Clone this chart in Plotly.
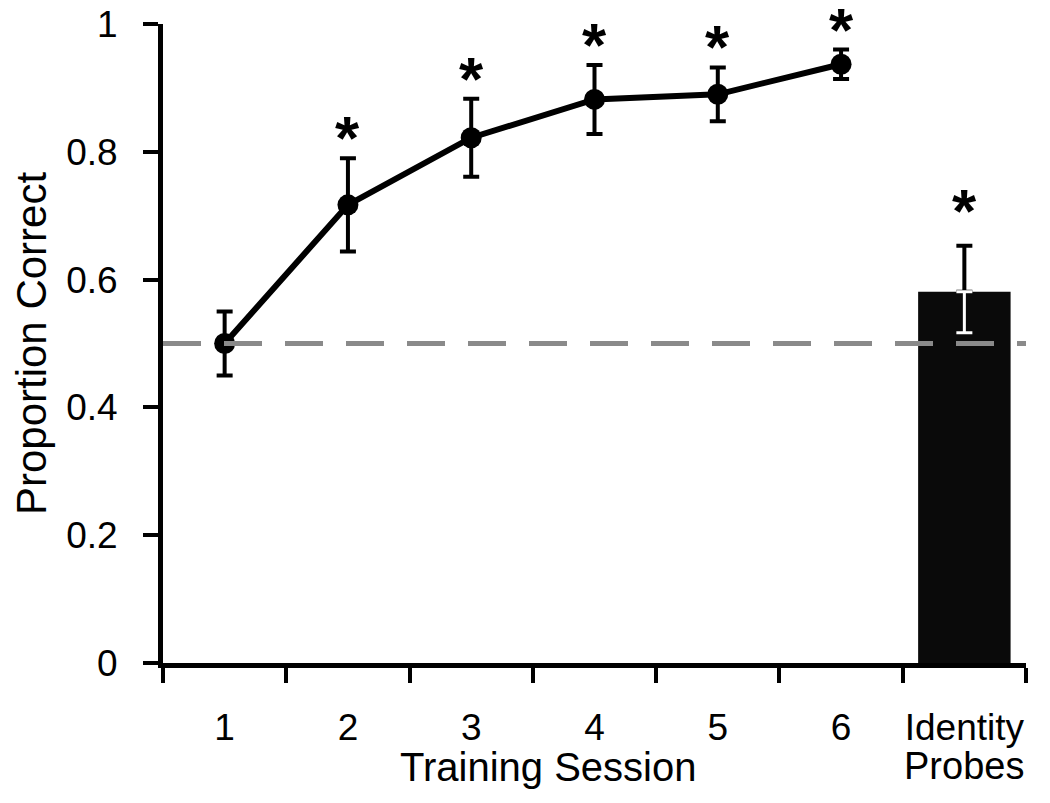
import plotly.graph_objects as go

# ---- data ----
sessions = ["1", "2", "3", "4", "5", "6"]
session_mean = [0.500, 0.717, 0.822, 0.882, 0.890, 0.937]
session_err = [0.050, 0.073, 0.061, 0.054, 0.042, 0.023]
session_sig = [False, True, True, True, True, True]

probe_label = "Identity Probes"
probe_mean = [0.581]
probe_err_up = [0.072]
probe_err_down = [0.064]
probe_sig = [True]

chance_level = 0.5
y_ticks = [0, 0.2, 0.4, 0.6, 0.8, 1]

categories = sessions + [probe_label]
tick_text = sessions + ["Identity"]

FONT = "Liberation Sans, Arial, sans-serif"

fig = go.Figure()

# Identity probes bar with black upper error bar
fig.add_trace(go.Bar(
    x=[probe_label], y=probe_mean, width=0.75,
    marker=dict(color="#0a0a0a", line=dict(width=0)),
    error_y=dict(type="data", symmetric=False, array=probe_err_up,
                 arrayminus=[0] * len(probe_mean), color="black",
                 thickness=4, width=8),
    showlegend=False,
))
# white lower error bar inside the bar
fig.add_trace(go.Scatter(
    x=[probe_label], y=probe_mean, mode="markers",
    marker=dict(size=1, color="rgba(0,0,0,0)"),
    error_y=dict(type="data", symmetric=False, array=[0] * len(probe_mean),
                 arrayminus=probe_err_down, color="white",
                 thickness=3, width=8),
    showlegend=False,
))

# training sessions line
fig.add_trace(go.Scatter(
    x=sessions, y=session_mean, mode="lines+markers",
    line=dict(color="black", width=6),
    marker=dict(size=21, color="black"),
    error_y=dict(type="data", array=session_err, color="black",
                 thickness=4, width=8),
    showlegend=False,
))

# chance line
fig.add_shape(type="line", xref="paper", yref="y", x0=0, x1=1,
              y0=chance_level, y1=chance_level, layer="above",
              line=dict(color="#8a8a8a", width=5, dash="38px,23px"))

# significance asterisks (category index used for x)
for cat, m, e, s in zip(sessions, session_mean, session_err, session_sig):
    if s:
        fig.add_annotation(x=categories.index(cat), y=m + e, xref="x", yref="y",
                           text="<b>*</b>", showarrow=False, yanchor="bottom",
                           yshift=-16,
                           font=dict(family=FONT, size=62, color="black"))
for m, e, s in zip(probe_mean, probe_err_up, probe_sig):
    if s:
        fig.add_annotation(x=categories.index(probe_label), y=m + e, xref="x",
                           yref="y", text="<b>*</b>", showarrow=False,
                           yanchor="bottom", yshift=-1,
                           font=dict(family=FONT, size=62, color="black"))

# x-axis titles
fig.add_annotation(x=0.446, y=-0.125, xref="paper", yref="paper",
                   text="Training Session", showarrow=False,
                   xanchor="center", yanchor="top",
                   font=dict(family=FONT, size=40, color="black"))
fig.add_annotation(x=categories.index(probe_label), y=-0.125, xref="x", yref="paper",
                   text="Probes", showarrow=False,
                   xanchor="center", yanchor="top",
                   font=dict(family=FONT, size=38, color="black"))

fig.update_layout(
    width=1042, height=795,
    margin=dict(l=155, r=24, t=16, b=140, autoexpand=False),
    plot_bgcolor="white", paper_bgcolor="white",
    font=dict(family=FONT, color="black"),
    bargap=0.25,
    xaxis=dict(
        type="category", categoryorder="array", categoryarray=categories,
        tickmode="array", tickvals=categories, ticktext=tick_text,
        tickson="boundaries", ticks="outside", ticklen=15, tickwidth=4,
        tickcolor="black", showline=True, linecolor="black", linewidth=5,
        showgrid=False, zeroline=False, range=[-0.5, 6.5], tickangle=0,
        tickfont=dict(family=FONT, size=37, color="black"),
        ticklabelstandoff=28, automargin=False, ticklabeloverflow="allow",
    ),
    yaxis=dict(
        range=[0, 1], tickvals=y_ticks, ticktext=[f"{v:g}" for v in y_ticks],
        ticks="outside", ticklen=15, tickwidth=4, tickcolor="black",
        showline=True, linecolor="black", linewidth=5,
        showgrid=False, zeroline=False, automargin=False,
        ticklabeloverflow="allow",
        tickfont=dict(family=FONT, size=37, color="black"),
        ticklabelstandoff=18,
        title=dict(text="Proportion Correct", standoff=14,
                   font=dict(family=FONT, size=42, color="black")),
    ),
)

fig.write_html("out.html")
